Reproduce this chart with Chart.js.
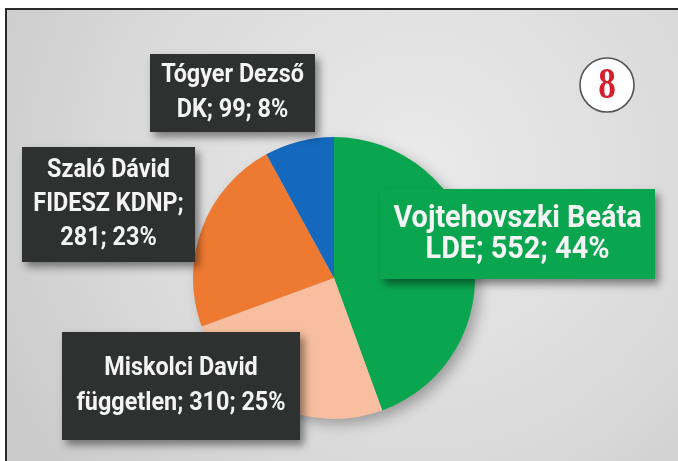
<!DOCTYPE html>
<html>
<head>
<meta charset="utf-8">
<script src="https://cdn.jsdelivr.net/npm/chart.js@4.4.1/dist/chart.umd.min.js"></script>
<style>
  html, body { margin: 0; padding: 0; background: #fff; }
  #wrap { width: 678px; height: 461px; }
</style>
</head>
<body>
<div id="wrap"><canvas id="myChart" width="678" height="461"></canvas></div>
<script>
// data
var names = ["Vojtehovszki Beáta", "Miskolci David", "Szaló Dávid", "Tógyer Dezső"];
var parties = ["LDE", "független", "FIDESZ KDNP", "DK"];
var votes = [552, 310, 281, 99];
var percents = [44, 25, 23, 8];
var sliceColors = ["#0aa64f", "#f7bea0", "#ee7a31", "#1469bf"];
var districtNo = "8";

// where the label boxes sit (x, y, w, h) and how they look
var boxes = [
  { x: 380, y: 189, w: 275, h: 90, bg: "#0aa64f", size: 32, lh: 31 },
  { x: 62, y: 332, w: 238, h: 108, bg: "#2f3030", size: 26, lh: 35 },
  { x: 22, y: 147, w: 173, h: 115, bg: "#2f3030", size: 26, lh: 34 },
  { x: 150, y: 54, w: 165, h: 78, bg: "#2f3030", size: 26, lh: 35 }
];
var squeeze = 0.9;

function wrapLines(ctx, text, maxW) {
  var words = text.split(" ");
  var lines = [];
  var cur = "";
  words.forEach(function (w) {
    var test = cur ? cur + " " + w : w;
    if (cur && ctx.measureText(test).width * squeeze > maxW) {
      lines.push(cur);
      cur = w;
    } else {
      cur = test;
    }
  });
  if (cur) lines.push(cur);
  return lines;
}

var backdrop = {
  id: "backdrop",
  beforeDraw: function (chart) {
    var ctx = chart.ctx;
    ctx.save();
    ctx.fillStyle = "#ffffff";
    ctx.fillRect(0, 0, 678, 461);
    var g = ctx.createRadialGradient(420, 170, 20, 420, 170, 470);
    g.addColorStop(0, "#e9e9e9");
    g.addColorStop(0.6, "#dadada");
    g.addColorStop(1, "#cbcbcb");
    ctx.fillStyle = g;
    ctx.fillRect(5, 8, 673, 453);
    ctx.fillStyle = "#2a2a2a";
    ctx.fillRect(5, 8, 673, 2);
    ctx.fillRect(5, 8, 2, 453);
    ctx.restore();
  },
  beforeDatasetsDraw: function (chart) {
    var arc = chart.getDatasetMeta(0).data[0];
    if (!arc) return;
    var ctx = chart.ctx;
    ctx.save();
    ctx.shadowColor = "rgba(0,0,0,0.3)";
    ctx.shadowBlur = 14;
    ctx.shadowOffsetX = 6;
    ctx.shadowOffsetY = 6;
    ctx.fillStyle = "#cccccc";
    ctx.beginPath();
    ctx.arc(arc.x, arc.y, arc.outerRadius - 1, 0, Math.PI * 2);
    ctx.fill();
    ctx.restore();
  },
  afterDraw: function (chart) {
    var ctx = chart.ctx;
    ctx.save();
    // label boxes
    boxes.forEach(function (b, i) {
      ctx.save();
      ctx.shadowColor = "rgba(0,0,0,0.45)";
      ctx.shadowBlur = 8;
      ctx.shadowOffsetX = 4;
      ctx.shadowOffsetY = 5;
      ctx.fillStyle = b.bg;
      ctx.fillRect(b.x, b.y, b.w, b.h);
      ctx.restore();

      ctx.font = "bold " + b.size + "px Roboto";
      ctx.fillStyle = "#f4f4f4";
      ctx.textAlign = "center";
      ctx.textBaseline = "middle";
      var lines = [names[i]].concat(
        wrapLines(ctx, parties[i] + "; " + votes[i] + "; " + percents[i] + "%", b.w - 14)
      );
      var cx = b.x + b.w / 2;
      var top = b.y + b.h / 2 - (lines.length - 1) * b.lh / 2;
      lines.forEach(function (ln, k) {
        ctx.save();
        ctx.translate(cx, top + k * b.lh);
        ctx.scale(squeeze, 1);
        ctx.fillText(ln, 0, 0);
        ctx.restore();
      });
    });

    // district badge
    ctx.beginPath();
    ctx.arc(607, 85, 27, 0, Math.PI * 2);
    ctx.fillStyle = "#ffffff";
    ctx.fill();
    ctx.lineWidth = 1.6;
    ctx.strokeStyle = "#555555";
    ctx.stroke();
    ctx.font = "bold 44px 'Liberation Serif'";
    ctx.fillStyle = "#d4202c";
    ctx.textAlign = "center";
    ctx.textBaseline = "middle";
    ctx.save();
    ctx.translate(607, 87);
    ctx.scale(0.8, 1);
    ctx.fillText(districtNo, 0, 0);
    ctx.restore();
    ctx.restore();
  }
};

var ctx = document.getElementById("myChart").getContext("2d");
var myChart = new Chart(ctx, {
  type: "pie",
  data: {
    labels: names,
    datasets: [
      {
        data: votes,
        backgroundColor: sliceColors,
        borderWidth: 0
      }
    ]
  },
  options: {
    responsive: false,
    animation: false,
    layout: {
      padding: { top: 137, bottom: 42, left: 193, right: 203 }
    },
    plugins: {
      legend: { display: false },
      tooltip: { enabled: false }
    }
  },
  plugins: [backdrop]
});
</script>
</body>
</html>
